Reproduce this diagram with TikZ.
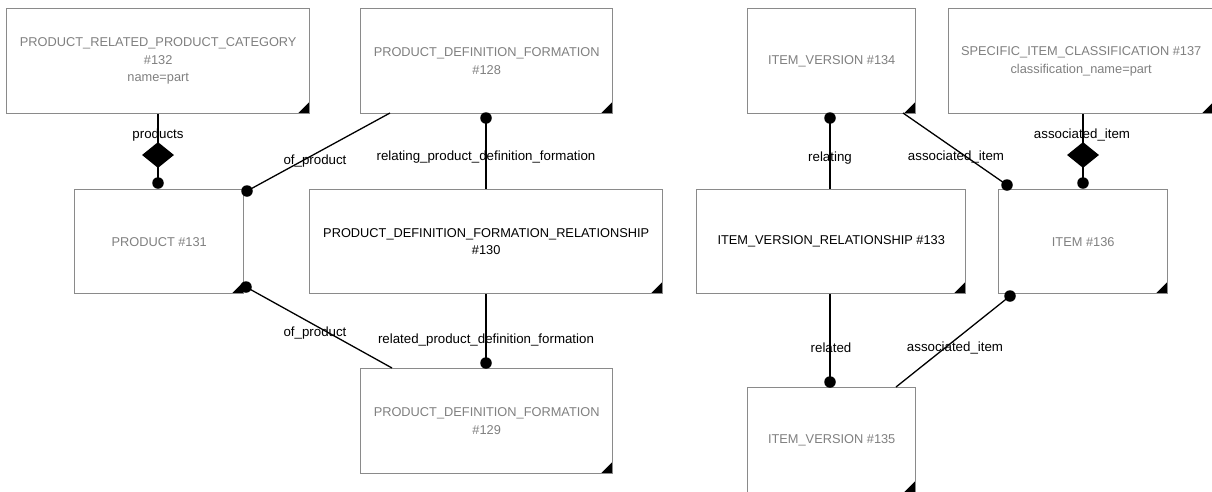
\documentclass[tikz,border=0pt]{standalone}
\usepackage{fontspec}
\setmainfont{Liberation Sans}
\usetikzlibrary{shapes.geometric}
\definecolor{boxgray}{HTML}{8A8A8A}
\definecolor{textgray}{HTML}{808080}
\begin{document}
\begin{tikzpicture}[x=1pt,y=-1pt,
 ent/.style={draw=boxgray, line width=1.4pt, fill=white, anchor=north west, inner sep=0pt, align=center,
   font=\fontsize{12.8}{17.5}\selectfont, text=textgray,
   path picture={\fill[black] (path picture bounding box.south east) -- ++(-12pt,0pt) -- ++(12pt,12pt) -- cycle;}},
 rel/.style={ent, text=black},
 lbl/.style={font=\fontsize{13.3}{15}\selectfont, inner sep=0pt, text=black},
 dot/.style={circle, fill=black, inner sep=0pt, minimum size=11.5pt},
 dia/.style={diamond, fill=black, inner sep=0pt, minimum width=32pt, minimum height=26pt},
 conn/.style={line width=1.3pt, black}]
\path[use as bounding box, clip] (0,0) rectangle (1212,491);
\fill[white] (0,0) rectangle (1212,491);
% entities
\node[ent, minimum width=303pt, minimum height=105pt] (n132) at (6,8) {PRODUCT\_RELATED\_PRODUCT\_CATEGORY\\\#132\\name=part};
\node[ent, minimum width=252pt, minimum height=105pt] (n128) at (360,8) {PRODUCT\_DEFINITION\_FORMATION\\\#128};
\node[ent, minimum width=169pt, minimum height=104pt] (n131) at (74,189) {PRODUCT \#131};
\node[rel, minimum width=353pt, minimum height=104pt] (n130) at (309,189) {PRODUCT\_DEFINITION\_FORMATION\_RELATIONSHIP\\\#130};
\node[ent, minimum width=252pt, minimum height=105pt] (n129) at (360,368) {PRODUCT\_DEFINITION\_FORMATION\\\#129};
\node[ent, minimum width=168pt, minimum height=105pt] (n134) at (747,8) {ITEM\_VERSION \#134};
\node[ent, minimum width=265pt, minimum height=105pt] (n137) at (948,8) {SPECIFIC\_ITEM\_CLASSIFICATION \#137\\classification\_name=part};
\node[rel, minimum width=269pt, minimum height=104pt] (n133) at (696,189) {ITEM\_VERSION\_RELATIONSHIP \#133};
\node[ent, minimum width=169pt, minimum height=104pt] (n136) at (998,189) {ITEM \#136};
\node[ent, minimum width=168pt, minimum height=105pt] (n135) at (747,387) {ITEM\_VERSION \#135};
% labels
\node[lbl] (l1) at (158,135) {products};
\node[lbl] (l2) at (315,161) {of\_product};
\node[lbl] (l3) at (486,157) {relating\_product\_definition\_formation};
\node[lbl] (l4) at (315,333) {of\_product};
\node[lbl] (l5) at (486,340) {related\_product\_definition\_formation};
\node[lbl] (l6) at (830,158) {relating};
\node[lbl] (l7) at (956,157) {associated\_item};
\node[lbl] (l8) at (1082,135) {associated\_item};
\node[lbl] (l9) at (831,348) {related};
\node[lbl] (l10) at (955,348) {associated\_item};
% connector ends
\coordinate (a1) at (390,113);
\coordinate (a2) at (392,368);
\coordinate (a3) at (903,113);
\coordinate (a4) at (896,387);
\node[dot] (p1) at (158,183) {};
\node[dot] (p2) at (247,191) {};
\node[dot] (p3) at (486,118) {};
\node[dot] (p4) at (246,287) {};
\node[dot] (p5) at (486,363) {};
\node[dot] (p6) at (830,118) {};
\node[dot] (p7) at (1007,185) {};
\node[dot] (p8) at (1083,183) {};
\node[dot] (p9) at (830,382) {};
\node[dot] (p10) at (1010,296) {};
% connectors
\draw[conn] (p1.center |- n132.south) -- (p1.center);
\draw[conn] (a1) -- (p2.center);
\draw[conn] (p3.center) -- (p3.center |- n130.north);
\draw[conn] (p4.center) -- (a2);
\draw[conn] (p5.center |- n130.south) -- (p5.center);
\draw[conn] (p6.center) -- (p6.center |- n133.north);
\draw[conn] (a3) -- (p7.center);
\draw[conn] (p8.center |- n137.south) -- (p8.center);
\draw[conn] (p9.center |- n133.south) -- (p9.center);
\draw[conn] (a4) -- (p10.center);
\node[dia] (d1) at (158,155) {};
\node[dia] (d2) at (1083,155) {};
\end{tikzpicture}
\end{document}
